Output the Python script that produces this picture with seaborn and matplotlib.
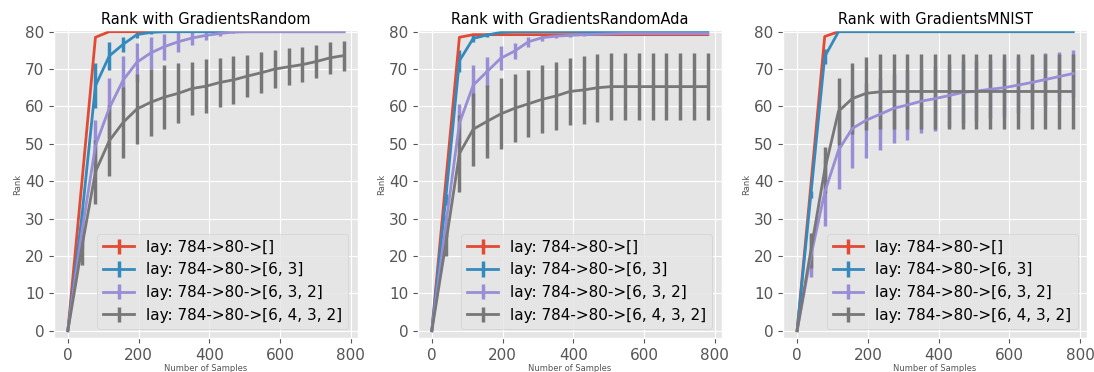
import matplotlib
matplotlib.use('Agg')
import matplotlib.pyplot as plt
import seaborn as sns

# number of samples used for each point
samples = [0, 39, 78, 117, 156, 195, 234, 273, 312, 351, 390,
           429, 468, 507, 546, 585, 624, 663, 702, 741, 780]

labels = ['lay: 784->80->[]', 'lay: 784->80->[6, 3]',
          'lay: 784->80->[6, 3, 2]', 'lay: 784->80->[6, 4, 3, 2]']
titles = ['Rank with GradientsRandom', 'Rank with GradientsRandomAda',
          'Rank with GradientsMNIST']

# GradientsRandom
rnd_l1 = [0, 39, 78.5] + [80] * 18
rnd_l1_err = [0] * 21
rnd_l2 = [0, 30, 65.5, 73.5, 76.6, 79.2, 79.8] + [80] * 14
rnd_l2_err = [0, 2, 6, 3.8, 2, 0.8, 0.3] + [0] * 14
rnd_l3 = [0, 26, 49.5, 59.5, 67, 71.8, 74.3, 76, 77.3, 78.3, 79, 79.5, 79.9] + [80] * 8
rnd_l3_err = [0, 4, 7, 8, 6.5, 5.3, 4.3, 3.5, 2.7, 2, 1.2, 0.6, 0.2] + [0] * 8
rnd_l4 = [0, 22, 42.5, 50.8, 55.7, 59.3, 61.1, 62.5, 63.5, 64.8, 65.4,
          66.4, 67.1, 68.1, 69, 70, 70.6, 71.2, 72, 73, 73.6]
rnd_l4_err = [0, 4.5, 8.5, 9.5, 9.4, 9.3, 9, 8.5, 8, 7.2, 7.2,
              6.6, 6.5, 5.7, 5.5, 5.2, 4.9, 4.6, 4.3, 4.2, 4]

# GradientsRandomAda
ada_l1 = [0, 39.5, 78.5] + [79.2] * 18
ada_l1_err = [0] * 21
ada_l2 = [0, 35, 72.2, 78.2, 79.1, 79.8] + [80] * 15
ada_l2_err = [0, 1.5, 3, 1, 0.5, 0.2] + [0] * 15
ada_l3 = [0, 28, 55.5, 65.7, 69.3, 72.9, 74.8, 77.3, 78.4, 78.8, 79,
          79.2, 79.3, 79.4] + [79.5] * 7
ada_l3_err = [0, 3, 5.2, 5.5, 4, 3.2, 2.2, 1.3, 0.8, 0.5, 0.4,
              0.3, 0.2, 0.1] + [0] * 7
ada_l4 = [0, 23, 47.4, 53.9, 56, 58, 59.5, 60.7, 61.9, 62.8, 64,
          64.4, 65] + [65.3] * 8
ada_l4_err = [0, 3, 10.3, 9.8, 9.8, 9.5, 9.1, 9, 9.1, 9.1, 9,
              9.2, 9.1] + [9] * 8

# GradientsMNIST
mn_l1 = [0, 39, 78.7] + [80] * 18
mn_l1_err = [0] * 21
mn_l2 = [0, 36.5, 73.3] + [80] * 18
mn_l2_err = [0, 1, 2] + [0] * 18
mn_l3 = [0, 20, 37, 48.3, 54.1, 56.3, 57.9, 59.5, 60.4, 61.4, 62.1,
         62.9, 63.75, 64.1, 64.6, 65, 65.7, 66.4, 67.2, 68, 68.8]
mn_l3_err = [0, 5.5, 9, 10.5, 10.5, 10, 9.6, 9.3, 9.4, 8.6, 8.7,
             8.5, 8.3, 8, 7.8, 7.6, 7.4, 7.2, 7, 6.5, 6.4]
mn_l4 = [0, 21.5, 43, 58.7, 62.1, 63.5, 63.9] + [64] * 14
mn_l4_err = [0, 4.7, 6.2, 9, 9.4, 9.8, 10] + [10] * 14

panels = [
    [(rnd_l1, rnd_l1_err), (rnd_l2, rnd_l2_err), (rnd_l3, rnd_l3_err), (rnd_l4, rnd_l4_err)],
    [(ada_l1, ada_l1_err), (ada_l2, ada_l2_err), (ada_l3, ada_l3_err), (ada_l4, ada_l4_err)],
    [(mn_l1, mn_l1_err), (mn_l2, mn_l2_err), (mn_l3, mn_l3_err), (mn_l4, mn_l4_err)],
]

plt.style.use('ggplot')
colors = sns.color_palette(['#E24A33', '#348ABD', '#988ED5', '#777777'])

fig = plt.figure(figsize=(10.94, 3.72), dpi=100)
lefts = [0.0494, 0.3821, 0.7160]
for i, series in enumerate(panels):
    ax = fig.add_axes([lefts[i], 0.0914, 0.2775, 0.8280])
    for (mean, err), lab, col in zip(series, labels, colors):
        ax.errorbar(samples, mean, yerr=err, label=lab, color=col,
                    linewidth=2, elinewidth=2.5)
    ax.set_ylim(-1.95, 80.45)
    ax.set_yticks(range(0, 81, 10))
    ax.set_xticks(range(0, 801, 200))
    ax.tick_params(labelsize=11)
    ax.set_title(titles[i], fontsize=10.5, color='black', pad=4)
    ax.set_xlabel('Number of Samples', fontsize=6, labelpad=1)
    ax.set_ylabel('Rank', fontsize=6, labelpad=2)
    ax.legend(loc='lower right', fontsize=11, borderaxespad=0.6)

fig.savefig('out.png', dpi=100)
